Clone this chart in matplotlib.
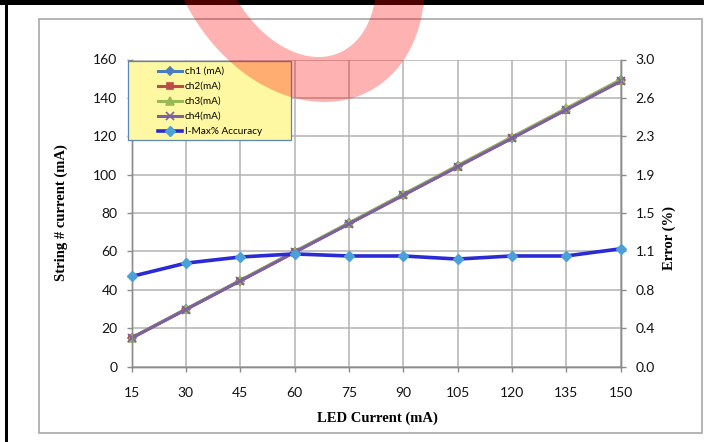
import numpy as np
import matplotlib
matplotlib.use("Agg")
import matplotlib.pyplot as plt
from matplotlib.patches import Rectangle, PathPatch
from matplotlib.path import Path

# ---- data -------------------------------------------------------------
led_current = [15, 30, 45, 60, 75, 90, 105, 120, 135, 150]
ch1 = [14.9, 29.8, 44.8, 59.7, 74.6, 89.5, 104.4, 119.3, 134.2, 149.1]
ch2 = [14.8, 29.7, 44.6, 59.5, 74.4, 89.3, 104.1, 119.0, 133.9, 148.7]
ch3 = [15.0, 29.9, 44.9, 59.9, 74.8, 89.8, 104.7, 119.6, 134.5, 149.5]
ch4 = [14.8, 29.7, 44.6, 59.5, 74.3, 89.2, 104.1, 118.9, 133.8, 148.6]
error_pct = [0.88, 1.01, 1.07, 1.10, 1.08, 1.08, 1.05, 1.08, 1.08, 1.15]

series_labels = ["ch1 (mA)", "ch2(mA)", "ch3(mA)", "ch4(mA)", "I-Max% Accuracy"]
left_ticks = [0, 20, 40, 60, 80, 100, 120, 140, 160]
right_ticks = [0.0, 0.375, 0.75, 1.125, 1.5, 1.875, 2.25, 2.625, 3.0]
right_tick_labels = ["0.0", "0.4", "0.8", "1.1", "1.5", "1.9", "2.3", "2.6", "3.0"]

# ---- figure layout (pixel helpers) -----------------------------------
W, H = 704, 442
fig = plt.figure(figsize=(W / 100, H / 100), dpi=100)
fig.patch.set_facecolor("white")

def fx(px):
    return px / W

def fy(py):
    return 1 - py / H

sans = ["Lato", "DejaVu Sans"]
serif = ["Liberation Serif", "DejaVu Serif"]
plt.rcParams["font.family"] = sans

# frame decorations
fig.add_artist(Rectangle((0, fy(5)), 1, 5 / H, transform=fig.transFigure,
                         facecolor="black", edgecolor="none", zorder=1))
fig.add_artist(Rectangle((fx(5), 0), 2.5 / W, 1, transform=fig.transFigure,
                         facecolor="black", edgecolor="none", zorder=1))
fig.add_artist(Rectangle((fx(39), fy(433)), (702 - 39) / W, (433 - 19) / H,
                         transform=fig.transFigure, facecolor="none",
                         edgecolor="#A8A8A8", lw=1.2, zorder=1))

left, right, top, bottom = 131.5, 620.5, 59.5, 366.5
ax = fig.add_axes([fx(left), fy(bottom), (right - left) / W, (bottom - top) / H])
ax2 = ax.twinx()

grid_c = "#B3B3B3"
axis_c = "#8C8C8C"

ax.set_xlim(15, 150)
ax.set_ylim(0, 160)
ax2.set_ylim(0, 3.0)
ax.set_xticks(led_current)
ax.set_yticks(left_ticks)
ax2.set_yticks(right_ticks)
ax2.set_yticklabels(right_tick_labels)

ax.grid(True, color=grid_c, lw=1.1)
ax.set_axisbelow(True)
for a in (ax, ax2):
    for s in a.spines.values():
        s.set_color(axis_c)
        s.set_linewidth(1.0)
    a.spines["top"].set_visible(False)
tick_font = 10
ax.tick_params(axis="y", direction="out", length=3.6, width=1, color=axis_c,
               pad=6.5, labelsize=tick_font, labelcolor="#111111")
ax.tick_params(axis="x", direction="out", length=3.6, width=1, color=axis_c,
               pad=11.5, labelsize=tick_font, labelcolor="#111111")
ax2.tick_params(axis="y", direction="out", length=3.6, width=1, color=axis_c,
                pad=7.2, labelsize=tick_font, labelcolor="#111111")

styles = [
    (ch1, "#4A7EBB", "D", 4.5),
    (ch2, "#BE4B48", "s", 5),
    (ch3, "#98B954", "^", 5.5),
    (ch4, "#7D60A0", "x", 5.5),
]
handles = []
for vals, c, m, ms in styles:
    h, = ax.plot(led_current, vals, color=c, lw=2.2, marker=m, ms=ms,
                 mfc=c, mec=c, mew=1.2, clip_on=False, zorder=3)
    handles.append(h)
he, = ax2.plot(led_current, error_pct, color="#2B2BD6", lw=2.6, marker="D",
               ms=5, mfc="#4BA0D8", mec="#4BA0D8", clip_on=False, zorder=3)
handles.append(he)

# axis titles
fig.text(fx(61.7), fy(213), "String # current (mA)", rotation=90,
         ha="center", va="center", fontsize=10.5, fontweight="bold", family=serif)
fig.text(fx(377), fy(418), "LED Current (mA)", ha="center", va="center",
         fontsize=10.5, fontweight="bold", family=serif)
fig.text(fx(669), fy(237.5), "Error (%)", rotation=90, ha="center", va="center",
         fontsize=10.5, fontweight="bold", family=serif)

# legend box
fig.add_artist(Rectangle((fx(127.5), fy(139.5)), 163 / W, 78 / H,
                         transform=fig.transFigure, facecolor="#FFF8A3",
                         edgecolor="#5A87B5", lw=0.9, zorder=4))
leg = fig.legend(handles, series_labels, loc="upper left",
                 bbox_to_anchor=(fx(158), fy(67)), frameon=False,
                 borderpad=0, borderaxespad=0, handlelength=2.4,
                 handletextpad=0.3, labelspacing=0.6, numpoints=1,
                 prop={"family": sans, "size": 7.2})
leg.set_zorder(5)

# red ring stamp across the top
def ring_side(cx, cy, a, b, k, n=200):
    t = np.linspace(0, 2 * np.pi, n)
    ys = cy + b * np.sin(t)
    xs = cx + a * np.cos(t) + k * ys
    return xs, ys

ox, oy = ring_side(304, -50, 127, 152, 0.2)
ix, iy = ring_side(306, -50, 78, 107, 0.22)
ix, iy = ix[::-1], iy[::-1]
verts = np.concatenate([np.column_stack([ox, oy]), np.column_stack([ix, iy])])
verts_fig = np.column_stack([verts[:, 0] / W, 1 - verts[:, 1] / H])
codes = ([Path.MOVETO] + [Path.LINETO] * (len(ox) - 2) + [Path.CLOSEPOLY]) * 2
ring = PathPatch(Path(verts_fig, codes), transform=fig.transFigure,
                 facecolor="red", edgecolor="none", alpha=0.3, zorder=10)
fig.add_artist(ring)

fig.savefig("out.png", dpi=100)
